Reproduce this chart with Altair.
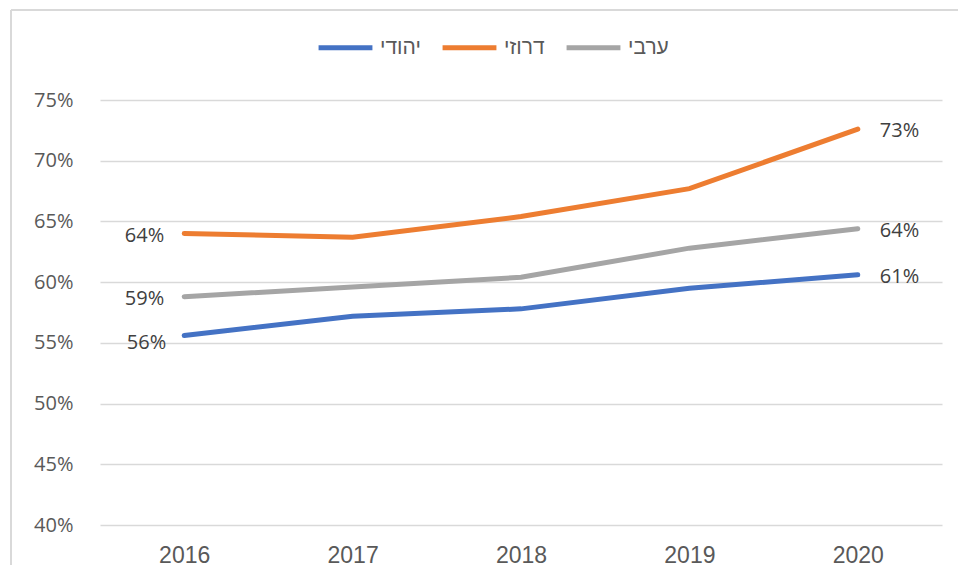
import altair as alt
import pandas as pd

years = ["2016", "2017", "2018", "2019", "2020"]
groups = ["יהודי", "דרוזי", "ערבי"]
colors = ["#4472C4", "#ED7D31", "#A5A5A5"]
jewish = [55.6, 57.2, 57.8, 59.5, 60.6]
druze = [64.0, 63.7, 65.4, 67.7, 72.6]
arab = [58.8, 59.6, 60.4, 62.8, 64.4]

rows = []
for g, vals in zip(groups, [jewish, druze, arab]):
    for y, v in zip(years, vals):
        rows.append({"year": y, "group": g, "value": v / 100})
df = pd.DataFrame(rows)

W, H = 842, 425

x = alt.X("year:N", sort=years, title=None,
          scale=alt.Scale(type="point", padding=0.5),
          axis=alt.Axis(labelAngle=0, labelFontSize=23, labelColor="#595959",
                        labelFont="Liberation Sans", labelPadding=19,
                        ticks=False, domain=False, grid=False))
y = alt.Y("value:Q", title=None,
          scale=alt.Scale(domain=[0.40, 0.75], nice=False, zero=False),
          axis=alt.Axis(format=".0%", values=[0.40, 0.45, 0.50, 0.55, 0.60, 0.65, 0.70, 0.75],
                        labelFontSize=20, labelColor="#595959", labelFont="Open Sans",
                        labelPadding=27, ticks=False, domain=False,
                        gridColor="#D9D9D9", gridWidth=1.5))
color = alt.Color("group:N", sort=groups,
                  scale=alt.Scale(domain=groups, range=colors),
                  legend=alt.Legend(title=None, orient="none", direction="horizontal",
                                    legendX=216, legendY=-82,
                                    symbolType="stroke", symbolSize=2900,
                                    symbolStrokeWidth=5, labelFontSize=21,
                                    labelFont="Liberation Sans", labelColor="#595959",
                                    labelOffset=5, columnPadding=11))

base = alt.Chart(df)
lines = base.mark_line(strokeWidth=5, strokeCap="round").encode(x=x, y=y, color=color, detail="group:N")

tx = dict(fontSize=20, font="Open Sans", color="#404040", baseline="middle")
left = base.transform_filter("datum.year == '2016' && datum.group != 'יהודי'").mark_text(
    align="right", dx=-20, dy=2, **tx
).encode(x=alt.X("year:N", sort=years), y="value:Q", text=alt.Text("value:Q", format=".0%"))
left_j = base.transform_filter("datum.year == '2016' && datum.group == 'יהודי'").mark_text(
    align="right", dx=-18, dy=7, **tx
).encode(x=alt.X("year:N", sort=years), y="value:Q", text=alt.Text("value:Q", format=".0%"))
right = base.transform_filter("datum.year == '2020'").mark_text(
    align="left", dx=22, dy=2, **tx
).encode(x=alt.X("year:N", sort=years), y="value:Q", text=alt.Text("value:Q", format=".0%"))

frame_df = pd.DataFrame({"a": [0]})
frame_left = alt.Chart(frame_df).mark_rule(color="#D9D9D9", strokeWidth=2).encode(
    x=alt.value(-89), y=alt.value(-90), y2=alt.value(H + 40))
frame_top = alt.Chart(frame_df).mark_rule(color="#D9D9D9", strokeWidth=2).encode(
    x=alt.value(-89), x2=alt.value(W + 16), y=alt.value(-90))

chart = alt.layer(frame_left, frame_top, lines, left, left_j, right).properties(
    width=W, height=H,
    autosize=alt.AutoSizeParams(type="none"),
    padding={"left": 92, "top": 92, "right": 16, "bottom": 42},
    background="white",
).configure_view(stroke=None)

chart.save("out.html", embed_options={"renderer": "svg", "actions": False})
